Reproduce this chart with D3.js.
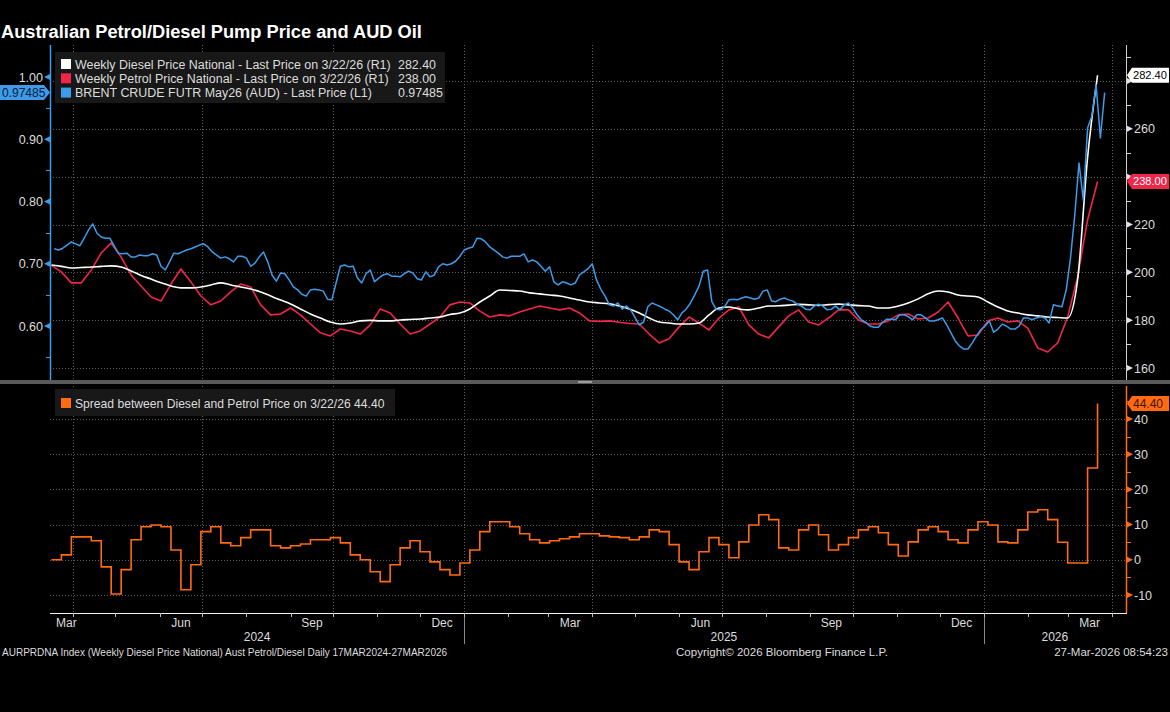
<!DOCTYPE html>
<html><head><meta charset="utf-8">
<script src="https://cdn.jsdelivr.net/npm/d3@7"></script>
<style>body{margin:0;background:#000;} svg{display:block;}</style>
</head><body><svg id="c" width="1170" height="712"></svg>
<script>
// ---------------- DATA ----------------
const weeklyStart = "2024-03-17";   // weekly series, one value per Sunday
const brentStart = "2024-03-19";    // Brent AUD sampled every 3 days
const brentStepDays = 3;

const diesel = [
203.1,202.5,201.8,202.0,202.2,202.5,202.7,202.2,200.6,198.7,
197.2,195.6,194.3,193.5,193.5,193.9,194.7,195.6,194.7,193.9,
193.0,191.8,190.1,188.4,186.8,184.7,182.6,180.9,179.2,178.4,
178.8,179.7,179.9,179.7,179.7,180.1,180.3,180.5,180.9,181.3,
182.4,183.0,184.7,187.6,190.1,192.6,192.4,192.2,191.4,191.0,
190.5,190.1,189.3,188.4,187.6,187.2,186.8,185.9,184.7,183.0,
180.9,179.2,178.8,178.4,178.4,178.8,182.2,185.1,185.5,184.7,
184.3,185.1,185.9,186.0,186.3,186.6,186.4,186.2,186.5,186.7,
186.4,186.1,185.9,185.1,185.1,185.9,187.2,188.9,191.0,192.2,
191.8,190.5,190.1,189.7,187.6,185.5,183.8,183.0,182.2,181.8,
181.3,181.1,180.9,196.8,248.0,282.4];

const petrol = [
202.9,200.2,195.6,195.6,201.0,208.1,212.3,206.4,198.9,194.3,
189.7,188.0,195.1,201.4,196.0,190.1,186.4,188.0,191.8,195.1,
193.9,186.4,182.2,182.6,185.1,182.2,178.4,174.7,173.4,176.3,
175.5,174.2,178.0,184.7,183.0,178.4,174.2,175.5,178.4,181.3,
186.4,187.6,187.2,183.8,181.3,182.2,181.8,183.4,184.7,185.9,
185.1,184.3,185.1,183.0,179.7,179.5,179.7,179.1,178.6,178.4,
174.2,170.5,172.2,177.2,181.3,178.8,175.9,180.9,184.3,185.5,
178.0,174.2,172.6,177.2,181.8,184.3,179.2,178.0,180.9,184.3,
184.3,180.1,178.4,178.4,179.7,182.2,182.6,180.5,180.9,183.4,
187.6,180.9,173.4,173.8,179.7,180.9,179.2,179.7,176.7,168.4,
166.7,170.5,181.3,198.1,221.9,238.0];

const spread = [
0.0,1.4,6.5,6.5,5.4,-2.0,-9.7,-2.8,5.7,9.4,
9.9,9.4,2.8,-8.5,-1.4,8.0,9.4,4.8,4.0,6.3,
8.5,8.5,4.0,3.4,4.0,4.5,5.7,5.7,6.3,4.8,
1.4,0.0,-3.4,-6.2,-1.4,3.4,5.4,2.3,-0.6,-2.8,
-4.3,-0.9,2.8,8.0,10.8,10.8,9.4,7.4,5.7,4.8,
5.4,6.0,6.5,7.4,7.4,6.8,6.5,6.3,5.7,6.5,
8.5,8.0,4.3,-0.6,-2.8,2.3,6.3,4.3,0.6,5.1,
9.9,12.8,11.4,3.4,2.8,8.5,9.9,7.1,2.8,4.3,
6.3,8.5,9.4,7.7,4.3,1.1,5.1,8.5,9.4,8.0,
5.7,4.8,8.5,10.8,9.9,5.1,4.8,8.5,13.6,14.2,
11.4,5.0,-0.9,-0.9,26.1,44.4];

const brent = [
0.724,0.722,0.725,0.730,0.735,0.732,0.729,0.741,0.754,0.764,
0.749,0.743,0.741,0.741,0.729,0.717,0.716,0.717,0.711,0.711,
0.714,0.713,0.713,0.716,0.714,0.696,0.690,0.703,0.717,0.716,
0.719,0.722,0.724,0.727,0.730,0.732,0.727,0.719,0.714,0.709,
0.711,0.708,0.703,0.712,0.712,0.709,0.696,0.701,0.711,0.719,
0.703,0.682,0.672,0.685,0.684,0.674,0.663,0.658,0.651,0.648,
0.658,0.659,0.658,0.656,0.643,0.642,0.669,0.696,0.698,0.695,
0.696,0.677,0.669,0.684,0.690,0.671,0.677,0.682,0.684,0.680,
0.680,0.679,0.684,0.688,0.685,0.676,0.674,0.687,0.679,0.682,
0.695,0.700,0.698,0.700,0.704,0.712,0.722,0.725,0.727,0.741,
0.740,0.735,0.727,0.722,0.717,0.711,0.709,0.712,0.712,0.712,
0.716,0.703,0.706,0.703,0.696,0.688,0.695,0.671,0.666,0.671,
0.669,0.666,0.669,0.682,0.687,0.692,0.700,0.674,0.659,0.648,
0.634,0.632,0.637,0.627,0.632,0.626,0.614,0.602,0.606,0.631,
0.637,0.634,0.631,0.627,0.624,0.618,0.610,0.621,0.627,0.637,
0.650,0.664,0.688,0.690,0.639,0.627,0.626,0.631,0.642,0.643,
0.642,0.645,0.647,0.645,0.643,0.645,0.656,0.658,0.640,0.639,
0.643,0.645,0.642,0.640,0.635,0.632,0.627,0.626,0.632,0.635,
0.632,0.626,0.627,0.632,0.626,0.634,0.637,0.629,0.618,0.610,
0.606,0.600,0.598,0.598,0.606,0.611,0.611,0.610,0.618,0.618,
0.615,0.610,0.618,0.618,0.613,0.608,0.608,0.610,0.613,0.602,
0.589,0.576,0.568,0.563,0.563,0.573,0.584,0.594,0.600,0.608,
0.590,0.595,0.603,0.600,0.595,0.595,0.600,0.613,0.613,0.610,
0.613,0.615,0.613,0.605,0.634,0.632,0.631,0.658,0.709,0.778,
0.862,0.802,0.918,0.937,0.987,0.902,0.975];

const monthLabels = ["Mar","Jun","Sep","Dec"];
const leftTicks = [0.60,0.70,0.80,0.90,1.00];
const leftMinor = [0.55,0.65,0.75,0.85,0.95];
const rightTicks = [160,180,200,220,240,260,280];
const rightMinor = [170,190,210,230,250,270,290];
const spreadTicks = [-10,0,10,20,30,40];
const spreadMinor = [-5,5,15,25,35,45];

const titleText = "Australian Petrol/Diesel Pump Price and AUD Oil";
const legendTop = [
  {label:"Weekly Diesel Price National - Last Price on 3/22/26 (R1)", value:"282.40", color:"#ffffff"},
  {label:"Weekly Petrol Price National - Last Price on 3/22/26 (R1)", value:"238.00", color:"#f0254a"},
  {label:"BRENT CRUDE FUTR May26 (AUD) - Last Price (L1)", value:"0.97485", color:"#3d9be9"}
];
const legendBottom = "Spread between Diesel and Petrol Price on 3/22/26 44.40";
const footerLeft = "AURPRDNA Index (Weekly Diesel Price National) Aust Petrol/Diesel Daily 17MAR2024-27MAR2026";
const footerMid = "Copyright\u00A9 2026 Bloomberg Finance L.P.";
const footerRight = "27-Mar-2026 08:54:23";

// ---------------- CHART ----------------
const svg = d3.select("#c");
const FONT = "'Liberation Sans', Arial, sans-serif";
const parse = d3.utcParse("%Y-%m-%d");
const C = {white:"#ffffff", red:"#f0254a", blue:"#3d9be9", orange:"#ff6a13", grid:"#5f5f5f", text:"#dcdcdc"};

function fitWidth(t, w){
  const fs = parseFloat(t.attr("font-size"));
  const l = t.node().getComputedTextLength();
  t.attr("font-size", fs*w/l);
  return fs*w/l;
}

const x = d3.scaleUtc().domain([parse("2024-03-16"), parse("2026-04-11")]).range([50, 1126]);
const P1 = {y0:45, y1:380};
const P2 = {y0:386, y1:613};
const yL = d3.scaleLinear().domain([0.6, 1.0]).range([326, 77]);
const yR = d3.scaleLinear().domain([160, 280]).range([368, 81]);
const yS = d3.scaleLinear().domain([-10, 40]).range([595, 419]);

const wk0 = parse(weeklyStart);
const weekDates = diesel.map((_, i) => d3.utcDay.offset(wk0, 7*i));
const br0 = parse(brentStart);
const brentDates = brent.map((_, i) => d3.utcDay.offset(br0, brentStepDays*i));

svg.append("rect").attr("width",1170).attr("height",712).attr("fill","#000");

const defs = svg.append("defs");
defs.append("clipPath").attr("id","clip1").append("rect")
  .attr("x",50).attr("y",P1.y0).attr("width",1076).attr("height",P1.y1-P1.y0);
defs.append("clipPath").attr("id","clip2").append("rect")
  .attr("x",50).attr("y",P2.y0).attr("width",1076).attr("height",P2.y1-P2.y0);

// Title
const title = svg.append("text").attr("x",1).attr("y",38).text(titleText)
  .attr("fill","#fff").attr("font-family",FONT).attr("font-weight","bold").attr("font-size",15);
fitWidth(title, 421);

// Gridlines
const quarters = d3.utcMonth.range(parse("2024-04-01"), parse("2026-04-12"), 3);
const grid = svg.append("g").attr("stroke",C.grid).attr("stroke-dasharray","1,2").attr("stroke-width",1);
quarters.forEach(d=>{
  const xx = Math.round(x(d))+0.5;
  grid.append("line").attr("x1",xx).attr("x2",xx).attr("y1",P1.y0).attr("y2",P1.y1);
  grid.append("line").attr("x1",xx).attr("x2",xx).attr("y1",P2.y0).attr("y2",P2.y1);
});
rightTicks.forEach(v=>{
  const yy = Math.round(yR(v))+0.5;
  grid.append("line").attr("x1",50).attr("x2",1126).attr("y1",yy).attr("y2",yy);
});
spreadTicks.forEach(v=>{
  const yy = Math.round(yS(v))+0.5;
  grid.append("line").attr("x1",50).attr("x2",1126).attr("y1",yy).attr("y2",yy);
});

// Legend boxes
function legendBox(x0,y0,w,h){
  svg.append("rect").attr("x",x0).attr("y",y0).attr("width",w).attr("height",h).attr("fill","#181818");
}
legendBox(55,52,390,51);
legendBox(55,389,340,27);

// Lines
const g1 = svg.append("g").attr("clip-path","url(#clip1)");
const g2 = svg.append("g").attr("clip-path","url(#clip2)");

g2.append("path").datum(spread)
  .attr("d", d3.line().curve(d3.curveStepAfter).x((d,i)=>x(weekDates[i])).y(d=>yS(d)))
  .attr("fill","none").attr("stroke",C.orange).attr("stroke-width",1.6);

g1.append("path").datum(petrol)
  .attr("d", d3.line().x((d,i)=>x(weekDates[i])).y(d=>yR(d)))
  .attr("fill","none").attr("stroke",C.red).attr("stroke-width",1.6).attr("stroke-linejoin","round");
g1.append("path").datum(diesel)
  .attr("d", d3.line().curve(d3.curveMonotoneX).x((d,i)=>x(weekDates[i])).y(d=>yR(d)))
  .attr("fill","none").attr("stroke",C.white).attr("stroke-width",1.6);
g1.append("path").datum(brent)
  .attr("d", d3.line().x((d,i)=>x(brentDates[i])).y(d=>yL(d)))
  .attr("fill","none").attr("stroke",C.blue).attr("stroke-width",1.5).attr("stroke-linejoin","round");

// Panel divider
svg.append("rect").attr("x",0).attr("y",380).attr("width",1170).attr("height",4).attr("fill","#5a5a5a");
svg.append("rect").attr("x",578).attr("y",381).attr("width",14).attr("height",2).attr("fill","#9a9a9a");

// Tag positions (last values)
const tagDiesel = yR(diesel[diesel.length-1]);
const tagPetrol = yR(petrol[petrol.length-1]);
const tagSpread = yS(spread[spread.length-1]);
const tagBrent = yL(brent[brent.length-1]);

// Left axis (Brent)
const ax = svg.append("g").attr("font-family",FONT);
ax.append("line").attr("x1",50.5).attr("x2",50.5).attr("y1",P1.y0).attr("y2",P1.y1).attr("stroke",C.blue).attr("stroke-width",1.5);
leftTicks.forEach(v=>{
  const yy=yL(v);
  ax.append("path").attr("d",`M50,${yy-3}L44,${yy}L50,${yy+3}Z`).attr("fill",C.blue);
  if (Math.abs(yy-tagBrent) < 14) return;
  ax.append("text").attr("x",43).attr("y",yy).attr("dy","0.36em").attr("text-anchor","end")
    .attr("fill",C.text).attr("font-size",12.5).text(d3.format(".2f")(v));
});
leftMinor.forEach(v=>{
  const yy=Math.round(yL(v))+0.5;
  ax.append("line").attr("x1",46).attr("x2",50).attr("y1",yy).attr("y2",yy).attr("stroke",C.blue);
});

// Right axis (pump prices)
ax.append("line").attr("x1",1126.5).attr("x2",1126.5).attr("y1",P1.y0).attr("y2",P1.y1).attr("stroke","#cfcfcf").attr("stroke-width",1);
rightTicks.forEach(v=>{
  const yy=yR(v);
  ax.append("path").attr("d",`M1127,${yy-3}L1133,${yy}L1127,${yy+3}Z`).attr("fill","#e0e0e0");
  if (Math.abs(yy-tagDiesel) < 15 || Math.abs(yy-tagPetrol) < 15) return;
  ax.append("text").attr("x",1134).attr("y",yy).attr("dy","0.36em")
    .attr("fill",C.text).attr("font-size",12.5).text(v);
});
rightMinor.forEach(v=>{
  const yy=Math.round(yR(v))+0.5;
  if (yy>P1.y0 && yy<P1.y1)
    ax.append("line").attr("x1",1127).attr("x2",1131).attr("y1",yy).attr("y2",yy).attr("stroke","#cfcfcf");
});

// Spread axis
ax.append("line").attr("x1",1126.5).attr("x2",1126.5).attr("y1",P2.y0).attr("y2",P2.y1).attr("stroke",C.orange).attr("stroke-width",1.5);
spreadTicks.forEach(v=>{
  const yy=yS(v);
  ax.append("path").attr("d",`M1127,${yy-3}L1133,${yy}L1127,${yy+3}Z`).attr("fill",C.orange);
  if (Math.abs(yy-tagSpread) < 15) return;
  ax.append("text").attr("x",1134).attr("y",yy).attr("dy","0.36em")
    .attr("fill",C.text).attr("font-size",12.5).text(v);
});
spreadMinor.forEach(v=>{
  const yy=Math.round(yS(v))+0.5;
  if (yy>P2.y0 && yy<P2.y1)
    ax.append("line").attr("x1",1127).attr("x2",1131).attr("y1",yy).attr("y2",yy).attr("stroke",C.orange);
});

// Last-value tags
function rightTag(yy, txt, fill, tcol){
  ax.append("path").attr("d",`M1127,${yy}L1132,${yy-7.5}L1169,${yy-7.5}L1169,${yy+7.5}L1132,${yy+7.5}Z`).attr("fill",fill);
  const t = ax.append("text").attr("x",1133).attr("y",yy).attr("dy","0.36em").attr("fill",tcol).attr("font-size",12).text(txt);
  const l = t.node().getComputedTextLength();
  if (l > 34) t.attr("font-size", 12*34/l);
}
rightTag(tagDiesel, d3.format(".2f")(diesel[diesel.length-1]), "#ffffff", "#000");
rightTag(tagPetrol, d3.format(".2f")(petrol[petrol.length-1]), C.red, "#fff");
rightTag(tagSpread, d3.format(".2f")(spread[spread.length-1]), C.orange, "#3a1500");
ax.append("path").attr("d",`M0,${tagBrent-7.5}L44,${tagBrent-7.5}L50,${tagBrent}L44,${tagBrent+7.5}L0,${tagBrent+7.5}Z`).attr("fill",C.blue);
ax.append("text").attr("x",2).attr("y",tagBrent).attr("dy","0.36em").attr("fill","#06203a").attr("font-size",12).text("0.97485");

// Bottom axis
ax.append("line").attr("x1",50).attr("x2",1127).attr("y1",613.5).attr("y2",613.5).attr("stroke","#f0f0f0").attr("stroke-width",1.2);
d3.utcMonth.range(parse("2024-04-01"), parse("2026-04-12")).forEach(d=>{
  const xx=Math.round(x(d))+0.5;
  ax.append("line").attr("x1",xx).attr("x2",xx).attr("y1",613).attr("y2",617).attr("stroke","#bdbdbd");
});
const dom = x.domain();
d3.utcMonth.range(parse("2024-03-01"), parse("2026-04-01")).forEach(m=>{
  const name = d3.utcFormat("%b")(m);
  if (!monthLabels.includes(name)) return;
  const s = m < dom[0] ? dom[0] : m;
  const e = d3.utcMonth.offset(m,1);
  let xx = (x(s)+x(e))/2;
  const t = ax.append("text").attr("y",627).attr("text-anchor","middle")
    .attr("fill",C.text).attr("font-size",12).text(name);
  const w = t.node().getComputedTextLength();
  xx = Math.max(xx, 50 + w/2 + 6);
  t.attr("x", xx);
});
[2024,2025,2026].forEach(yv=>{
  const s = d3.max([parse(yv+"-01-01"), dom[0]]);
  const e = d3.min([parse((yv+1)+"-01-01"), dom[1]]);
  ax.append("text").attr("x",(x(s)+x(e))/2).attr("y",641).attr("text-anchor","middle")
    .attr("fill",C.text).attr("font-size",12).text(yv);
  if (yv>2024){
    const xx=Math.round(x(parse(yv+"-01-01")))+0.5;
    ax.append("line").attr("x1",xx).attr("x2",xx).attr("y1",617).attr("y2",644).attr("stroke","#8a8a8a");
  }
});

// Legends
const lg = svg.append("g").attr("font-family",FONT);
const probe = lg.append("text").attr("font-size",11).text(legendTop[0].label);
const lfs = fitWidth(probe, 316);
probe.remove();
legendTop.forEach((d,i)=>{
  const by = 68.5 + i*14.3;
  lg.append("rect").attr("x",61).attr("y",by-9.5).attr("width",10).attr("height",10).attr("fill",d.color);
  lg.append("text").attr("x",75).attr("y",by).attr("fill",C.text).attr("font-size",lfs).text(d.label);
  lg.append("text").attr("x",398).attr("y",by).attr("fill",C.text).attr("font-size",lfs).text(d.value);
});
lg.append("rect").attr("x",61).attr("y",398).attr("width",10).attr("height",10).attr("fill",C.orange);
const lb = lg.append("text").attr("x",75).attr("y",408).attr("fill",C.text).attr("font-size",11).text(legendBottom);
fitWidth(lb, 310);

// Footer
const ft = svg.append("g").attr("font-family",FONT).attr("fill",C.text);
fitWidth(ft.append("text").attr("x",2).attr("y",656).attr("font-size",11).text(footerLeft), 446);
fitWidth(ft.append("text").attr("x",676).attr("y",656).attr("font-size",11).text(footerMid), 212);
ft.append("text").attr("x",1168).attr("y",656).attr("text-anchor","end").attr("font-size",11.5).text(footerRight);
</script>
</body></html>
